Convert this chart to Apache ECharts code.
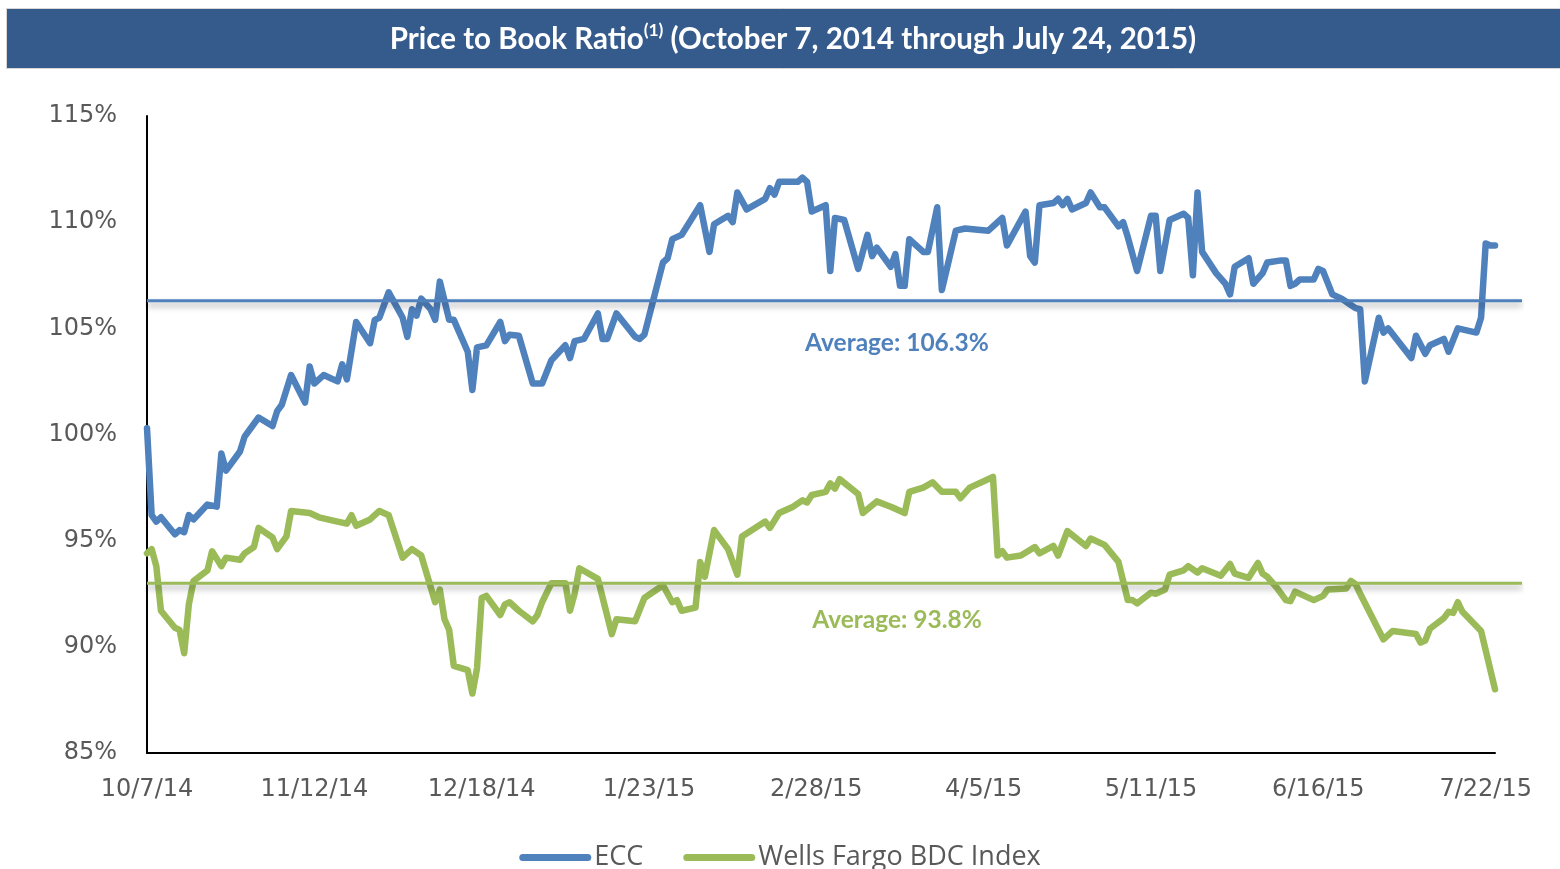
<!DOCTYPE html>
<html>
<head>
<meta charset="utf-8">
<script src="https://cdn.jsdelivr.net/npm/echarts@6/dist/echarts.min.js"></script>
<style>
html,body{margin:0;padding:0;background:#fff;}
#chart{width:1560px;height:869px;}
</style>
</head>
<body>
<div id="chart"></div>
<script>
// ---------- DATA ----------
const startDate = "10/7/14";
const endDate = "7/24/15";
const tickIntervalDays = 36;
const yTicks = [85, 90, 95, 100, 105, 110, 115];

const eccDates = ["10/7/14","10/8/14","10/9/14","10/10/14","10/13/14","10/14/14","10/15/14","10/16/14","10/17/14","10/20/14","10/22/14","10/23/14","10/24/14","10/27/14","10/28/14","10/29/14","10/31/14","11/3/14","11/4/14","11/5/14","11/7/14","11/10/14","11/11/14","11/12/14","11/14/14","11/17/14","11/18/14","11/19/14","11/21/14","11/24/14","11/25/14","11/26/14","11/28/14","12/1/14","12/2/14","12/3/14","12/4/14","12/5/14","12/7/14","12/8/14","12/9/14","12/11/14","12/12/14","12/15/14","12/16/14","12/17/14","12/19/14","12/22/14","12/23/14","12/24/14","12/26/14","12/29/14","12/31/14","1/2/15","1/5/15","1/6/15","1/7/15","1/9/15","1/12/15","1/13/15","1/14/15","1/16/15","1/20/15","1/21/15","1/22/15","1/24/15","1/26/15","1/27/15","1/28/15","1/30/15","2/3/15","2/5/15","2/6/15","2/9/15","2/10/15","2/11/15","2/13/15","2/17/15","2/18/15","2/19/15","2/20/15","2/24/15","2/25/15","2/26/15","2/27/15","3/2/15","3/3/15","3/4/15","3/6/15","3/9/15","3/11/15","3/12/15","3/13/15","3/16/15","3/17/15","3/18/15","3/19/15","3/20/15","3/23/15","3/24/15","3/26/15","3/27/15","3/30/15","4/1/15","4/6/15","4/7/15","4/9/15","4/10/15","4/14/15","4/15/15","4/16/15","4/17/15","4/20/15","4/21/15","4/22/15","4/23/15","4/24/15","4/27/15","4/28/15","4/30/15","5/1/15","5/4/15","5/5/15","5/6/15","5/8/15","5/11/15","5/12/15","5/13/15","5/15/15","5/18/15","5/19/15","5/20/15","5/21/15","5/22/15","5/25/15","5/27/15","5/28/15","5/29/15","6/1/15","6/2/15","6/4/15","6/5/15","6/8/15","6/9/15","6/10/15","6/11/15","6/12/15","6/15/15","6/16/15","6/17/15","6/19/15","6/21/15","6/23/15","6/24/15","6/25/15","6/26/15","6/29/15","6/30/15","7/1/15","7/6/15","7/7/15","7/9/15","7/10/15","7/13/15","7/14/15","7/16/15","7/20/15","7/21/15","7/22/15","7/23/15","7/24/15"];
const eccValues = [100.3,96.2,95.9,96.1,95.3,95.5,95.4,96.2,96.0,96.7,96.6,99.1,98.3,99.2,99.9,100.2,100.8,100.4,101.1,101.4,102.8,101.5,103.2,102.4,102.8,102.5,103.3,102.6,105.3,104.3,105.4,105.5,106.7,105.5,104.6,105.9,105.6,106.4,105.9,105.4,107.2,105.4,105.4,103.9,102.1,104.1,104.2,105.3,104.4,104.7,104.65,102.4,102.4,103.5,104.2,103.6,104.4,104.5,105.7,104.5,104.5,105.7,104.6,104.5,104.7,106.4,108.1,108.3,109.2,109.4,110.8,108.6,109.9,110.3,110.0,111.4,110.6,111.1,111.6,111.3,111.9,111.9,112.1,111.9,110.5,110.8,107.7,110.2,110.1,107.8,109.4,108.4,108.8,107.9,108.5,107.0,107.0,109.2,108.6,108.6,110.7,106.8,109.6,109.7,109.6,109.8,110.2,108.9,110.5,108.4,108.1,110.8,110.9,111.1,110.8,111.1,110.6,110.9,111.4,110.7,110.7,109.8,110.0,109.3,107.7,110.3,110.3,107.7,110.1,110.4,110.2,107.5,111.4,108.6,107.6,107.1,106.6,107.9,108.3,107.1,107.6,108.1,108.2,108.2,107.0,107.1,107.3,107.3,107.8,107.7,106.6,106.4,106.1,105.95,105.9,102.5,105.5,104.8,105.0,103.6,104.65,103.8,104.2,104.5,103.9,105.0,104.8,105.5,109.0,108.9,108.9];

const wfDates = ["10/7/14","10/8/14","10/9/14","10/10/14","10/13/14","10/14/14","10/15/14","10/16/14","10/17/14","10/20/14","10/21/14","10/23/14","10/24/14","10/27/14","10/28/14","10/30/14","10/31/14","11/3/14","11/4/14","11/6/14","11/7/14","11/11/14","11/13/14","11/17/14","11/19/14","11/20/14","11/21/14","11/24/14","11/26/14","11/28/14","12/1/14","12/3/14","12/5/14","12/8/14","12/9/14","12/10/14","12/11/14","12/12/14","12/15/14","12/16/14","12/17/14","12/18/14","12/19/14","12/22/14","12/23/14","12/24/14","12/26/14","12/29/14","12/30/14","12/31/14","1/2/15","1/5/15","1/6/15","1/7/15","1/8/15","1/12/15","1/15/15","1/16/15","1/20/15","1/22/15","1/26/15","1/28/15","1/29/15","1/30/15","2/2/15","2/3/15","2/4/15","2/6/15","2/9/15","2/11/15","2/12/15","2/17/15","2/18/15","2/20/15","2/23/15","2/25/15","2/26/15","2/27/15","3/2/15","3/3/15","3/4/15","3/5/15","3/9/15","3/10/15","3/13/15","3/16/15","3/17/15","3/19/15","3/20/15","3/23/15","3/25/15","3/27/15","3/30/15","3/31/15","4/2/15","4/7/15","4/8/15","4/9/15","4/10/15","4/13/15","4/16/15","4/17/15","4/20/15","4/21/15","4/23/15","4/27/15","4/28/15","5/1/15","5/4/15","5/6/15","5/7/15","5/8/15","5/11/15","5/12/15","5/14/15","5/15/15","5/18/15","5/19/15","5/21/15","5/22/15","5/26/15","5/28/15","5/29/15","6/1/15","6/3/15","6/4/15","6/5/15","6/7/15","6/9/15","6/10/15","6/11/15","6/15/15","6/17/15","6/18/15","6/22/15","6/23/15","6/24/15","6/25/15","6/30/15","7/2/15","7/7/15","7/8/15","7/9/15","7/10/15","7/13/15","7/14/15","7/15/15","7/16/15","7/17/15","7/21/15","7/24/15"];
const wfValues = [94.4,94.6,93.8,91.7,90.9,90.8,89.7,92.0,93.1,93.6,94.5,93.8,94.2,94.1,94.4,94.7,95.6,95.15,94.6,95.2,96.4,96.3,96.1,95.9,95.8,96.2,95.7,96.0,96.4,96.2,94.2,94.6,94.3,92.1,92.7,91.3,90.8,89.1,88.9,87.8,89.0,92.3,92.4,91.5,92.0,92.1,91.7,91.2,91.5,92.1,93.0,93.0,91.7,92.5,93.7,93.2,90.6,91.3,91.2,92.3,92.9,92.1,92.2,91.7,91.85,94.0,93.3,95.5,94.6,93.4,95.2,95.9,95.6,96.3,96.6,96.9,96.8,97.15,97.3,97.7,97.45,97.9,97.2,96.3,96.85,96.6,96.5,96.3,97.3,97.5,97.75,97.3,97.3,97.0,97.5,98.0,94.3,94.5,94.2,94.3,94.7,94.4,94.75,94.3,95.45,94.75,95.1,94.8,94.0,92.2,92.2,92.05,92.55,92.5,92.7,93.4,93.6,93.8,93.5,93.7,93.35,93.9,93.45,93.25,93.95,93.45,93.3,92.8,92.2,92.15,92.6,92.2,92.4,92.7,92.75,93.1,92.95,92.5,90.35,90.75,90.6,90.2,90.3,90.85,91.35,91.65,91.6,92.1,91.65,90.75,88.0];

// average lines (drawn level) and their printed labels
const eccAverage = 106.3;
const wfAverage = 93.0;
const eccAverageLabel = "Average: 106.3%";
const wfAverageLabel = "Average: 93.8%";

const seriesNames = ["ECC", "Wells Fargo BDC Index"];
const titleMain = "Price to Book Ratio";
const titleSup = "(1)";
const titleRest = " (October 7, 2014 through July 24, 2015)";

// ---------- HELPERS ----------
const DAY = 86400000;
function parseMDY(s){ const p = s.split('/').map(Number); return Date.UTC(2000 + p[2], p[0]-1, p[1]); }
const t0 = parseMDY(startDate);
function dayOffset(s){ return Math.round((parseMDY(s) - t0) / DAY); }
function fmtDay(v){ const d = new Date(t0 + v*DAY); return (d.getUTCMonth()+1) + '/' + d.getUTCDate() + '/' + String(d.getUTCFullYear()).slice(2); }
const totalDays = dayOffset(endDate);

const eccData = eccDates.map((d,i)=>[dayOffset(d), eccValues[i]]);
const wfData = wfDates.map((d,i)=>[dayOffset(d), wfValues[i]]);

const BLUE = '#4F81BD', GREEN = '#9BBB59', GREY = '#595959';
const chart = echarts.init(document.getElementById('chart'), null, {renderer:'canvas'});

const avgShadow = {shadowColor:'rgba(0,0,0,0.35)', shadowBlur:6, shadowOffsetY:4};

chart.setOption({
  animation:false,
  backgroundColor:'#ffffff',
  grid:[
    {left:147, right:65, top:116, bottom:116},
    {left:147, right:38, top:116, bottom:116}
  ],
  xAxis:[
    {type:'value', gridIndex:0, min:0, max:totalDays, interval:tickIntervalDays,
     axisLine:{show:true, lineStyle:{color:'#000', width:2}},
     axisTick:{show:false}, splitLine:{show:false},
     axisLabel:{color:GREY, fontFamily:'DejaVu Sans', fontSize:24, margin:25, showMaxLabel:false, formatter:v=>fmtDay(v)}},
    {type:'value', gridIndex:1, min:0, max:1, show:false}
  ],
  yAxis:[
    {type:'value', gridIndex:0, min:yTicks[0], max:yTicks[yTicks.length-1], interval:yTicks[1]-yTicks[0],
     axisLine:{show:true, lineStyle:{color:'#000', width:2}},
     axisTick:{show:false}, splitLine:{show:false},
     axisLabel:{color:GREY, fontFamily:'DejaVu Sans', fontSize:24, margin:30, padding:[6,0,0,0], formatter:'{value}%'}},
    {type:'value', gridIndex:1, min:yTicks[0], max:yTicks[yTicks.length-1], show:false}
  ],
  legend:{
    data:seriesNames, bottom:-7, left:'center', itemWidth:72, itemHeight:7, itemGap:40,
    icon:'path://M3.5,0 H68.5 A3.5,3.5 0 0 1 68.5,7 H3.5 A3.5,3.5 0 0 1 3.5,0 Z',
    textStyle:{color:GREY, fontFamily:'Open Sans', fontSize:27, padding:[0,0,0,-2]}
  },
  series:[
    {name:seriesNames[0], type:'line', xAxisIndex:0, yAxisIndex:0, data:eccData, symbol:'none', z:3,
     lineStyle:{color:BLUE, width:6.5, join:'round', cap:'round'}, itemStyle:{color:BLUE}},
    {name:seriesNames[1], type:'line', xAxisIndex:0, yAxisIndex:0, data:wfData, symbol:'none', z:3,
     lineStyle:{color:GREEN, width:6.5, join:'round', cap:'round'}, itemStyle:{color:GREEN}},
    {name:'ECC Average', type:'line', xAxisIndex:1, yAxisIndex:1, data:[[0,eccAverage],[1,eccAverage]], symbol:'none', z:4,
     lineStyle:Object.assign({color:BLUE, width:3}, avgShadow)},
    {name:'WF Average', type:'line', xAxisIndex:1, yAxisIndex:1, data:[[0,wfAverage],[1,wfAverage]], symbol:'none', z:4,
     lineStyle:Object.assign({color:GREEN, width:3}, avgShadow)}
  ]
});

const yE = chart.convertToPixel({yAxisIndex:0}, eccAverage);
const yW = chart.convertToPixel({yAxisIndex:0}, wfAverage);

chart.setOption({
  graphic:[
    {type:'rect', id:'banner', left:6, top:8, z:0, shape:{width:1556, height:60},
     style:{fill:'#355B8D', stroke:'#D6D6D6', lineWidth:1}},
    {type:'text', id:'title', x:793, y:39, z:1,
     style:{text:'{a|'+titleMain+'}{s|'+titleSup+'}{a|'+titleRest+'}', align:'center', verticalAlign:'middle',
       rich:{a:{fill:'#fff', fontFamily:'Lato', fontWeight:'bold', fontSize:29.5, lineHeight:36},
             s:{fill:'#fff', fontFamily:'Lato', fontWeight:'bold', fontSize:17.5, lineHeight:22, verticalAlign:'top'}}}},
    {type:'text', id:'avgE', x:897, y:yE+42, z:5,
     style:{text:eccAverageLabel, align:'center', verticalAlign:'middle', fill:BLUE, fontFamily:'Lato', fontWeight:'bold', fontSize:24.5}},
    {type:'text', id:'avgW', x:897, y:yW+37, z:5,
     style:{text:wfAverageLabel, align:'center', verticalAlign:'middle', fill:GREEN, fontFamily:'Lato', fontWeight:'bold', fontSize:24.5}}
  ]
});
</script>
</body>
</html>
